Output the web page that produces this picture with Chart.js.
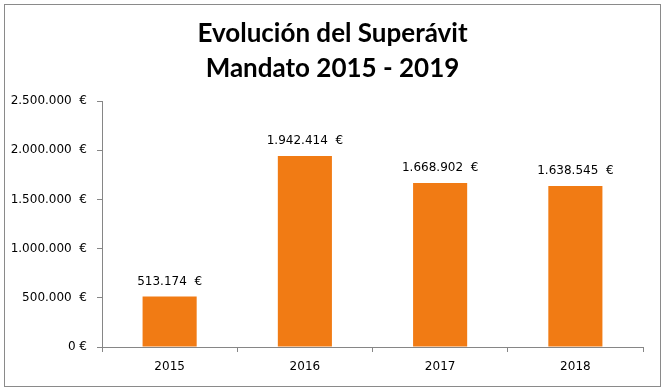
<!DOCTYPE html>
<html>
<head>
<meta charset="utf-8">
<script src="https://cdn.jsdelivr.net/npm/chart.js@4"></script>
<style>
  html, body { margin: 0; padding: 0; background: #fff; }
  #wrap { width: 665px; height: 390px; }
</style>
</head>
<body>
<div id="wrap"><canvas id="superavitChart" width="665" height="390"></canvas></div>
<script>
// datos
const YEARS    = ['2015', '2016', '2017', '2018'];
const SUPERAVIT = [513174, 1942414, 1668902, 1638545];
const TITLE_LINES = ['Evolución del Superávit', 'Mandato 2015 - 2019'];
const Y_MAX  = 2500000;
const Y_STEP = 500000;

const BAR_COLOR  = '#F17B14';
const AXIS_COLOR = '#868686';
const TICK_FONT  = { family: '"DejaVu Sans", Verdana, sans-serif', size: 12 };

function fmtEuro(n) {
  if (!n) return '0 €';
  return String(n).replace(/\B(?=(\d{3})+(?!\d))/g, '.') + '  €';
}

// marco exterior + fondo
const framePlugin = {
  id: 'frame',
  beforeDraw(chart) {
    const c = chart.ctx;
    c.save();
    c.fillStyle = '#fff';
    c.fillRect(0, 0, chart.width, chart.height);
    c.strokeStyle = '#8a8a8a';
    c.lineWidth = 1;
    c.strokeRect(4.5, 4.5, 656, 382);
    c.restore();
  }
};

// etiquetas encima de las barras
const valueLabels = {
  id: 'valueLabels',
  afterDatasetsDraw(chart) {
    const c = chart.ctx;
    const meta = chart.getDatasetMeta(0);
    c.save();
    c.font = `${TICK_FONT.size}px ${TICK_FONT.family}`;
    c.fillStyle = '#000';
    c.textAlign = 'center';
    c.textBaseline = 'middle';
    meta.data.forEach((bar, i) => {
      c.fillText(fmtEuro(SUPERAVIT[i]), bar.x, bar.y - 15);
    });
    c.restore();
  }
};

new Chart(document.getElementById('superavitChart').getContext('2d'), {
  type: 'bar',
  data: {
    labels: YEARS,
    datasets: [{
      data: SUPERAVIT,
      backgroundColor: BAR_COLOR,
      borderWidth: 0,
      barPercentage: 0.4,
      categoryPercentage: 1.0
    }]
  },
  options: {
    responsive: false,
    animation: false,
    layout: { padding: 0 },
    plugins: {
      legend: { display: false },
      tooltip: { enabled: false },
      title: {
        display: true,
        text: TITLE_LINES,
        color: '#000',
        font: { family: 'Lato, "Open Sans", sans-serif', size: 26, weight: 'bold', lineHeight: 1.35 },
        padding: { top: 16, bottom: 15 }
      }
    },
    scales: {
      x: {
        grid: { display: true, drawOnChartArea: false, offset: true, tickLength: 5, color: AXIS_COLOR },
        border: { color: AXIS_COLOR },
        ticks: { color: '#000', font: TICK_FONT, padding: 8 },
        afterFit: s => { s.height = 43; }
      },
      y: {
        min: 0,
        max: Y_MAX,
        grid: { display: true, drawOnChartArea: false, tickLength: 5, color: AXIS_COLOR },
        border: { color: AXIS_COLOR },
        ticks: { stepSize: Y_STEP, color: '#000', font: TICK_FONT, padding: 10, callback: v => fmtEuro(v) },
        afterFit: s => { s.width = 102; }
      },
      // hueco a la derecha del área del gráfico
      yRight: {
        position: 'right',
        min: 0,
        max: Y_MAX,
        grid: { display: false },
        border: { display: false },
        ticks: { display: false },
        afterFit: s => { s.width = 22; }
      }
    }
  },
  plugins: [framePlugin, valueLabels]
});
</script>
</body>
</html>
